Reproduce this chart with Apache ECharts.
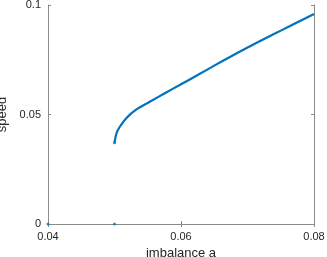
<!DOCTYPE html>
<html><head><meta charset="utf-8">
<script src="https://cdn.jsdelivr.net/npm/echarts@6/dist/echarts.min.js"></script>
<style>html,body{margin:0;padding:0;background:#fff}#c{width:327px;height:257px}</style>
</head><body><div id="c"></div>
<script>
var curveX = [0.05, 0.0503, 0.0508, 0.0518, 0.0533, 0.0553, 0.0575, 0.06, 0.0625, 0.065, 0.0675, 0.07, 0.0725, 0.075, 0.0775, 0.08];
var curveY = [0.0371, 0.0414, 0.0444, 0.0484, 0.0523, 0.0558, 0.0596, 0.0638, 0.0680, 0.0723, 0.0765, 0.0806, 0.0845, 0.0883, 0.0921, 0.0959];
var zeroX = [0.04, 0.05];
var zeroY = [0, 0];
var xTicks = [0.04, 0.06, 0.08];
var yTicks = [0, 0.05, 0.1];

var color = '#0072BD';
var axisCol = '#8a8a8a';
var textCol = '#262626';
var font = 'Liberation Sans, Arial, sans-serif';
function pairs(xs, ys){ return xs.map(function(x,i){return [x, ys[i]];}); }
var chart = echarts.init(document.getElementById('c'), null, {renderer:'canvas'});
var common = {
  axisLine:{show:true, lineStyle:{color:axisCol, width:1}},
  axisTick:{show:true, inside:true, length:3, lineStyle:{color:axisCol}},
  splitLine:{show:false}
};
function fmt(list){ return function(v){ var r=+(+v).toFixed(3); return list.indexOf(r)>=0 ? String(r) : ''; }; }
chart.setOption({
  animation:false,
  grid:{left:48, top:5, right:13, bottom:33, containLabel:false, outerBoundsMode:'none'},
  xAxis:[
    Object.assign({type:'value', min:0.04, max:0.08, interval:0.02, position:'bottom',
      name:'imbalance a', nameLocation:'middle', nameGap:20,
      nameTextStyle:{fontFamily:font, fontSize:13, color:textCol},
      axisLabel:{fontFamily:font, fontSize:11, color:textCol, margin:7, formatter:fmt(xTicks)}
    }, common),
    Object.assign({type:'value', min:0.04, max:0.08, interval:0.02, position:'top', axisLabel:{show:false}}, common)
  ],
  yAxis:[
    Object.assign({type:'value', min:0, max:0.1, interval:0.05, position:'left',
      name:'speed', nameLocation:'middle', nameGap:33,
      nameTextStyle:{fontFamily:font, fontSize:13, color:textCol},
      axisLabel:{fontFamily:font, fontSize:11, color:textCol, margin:7, formatter:fmt(yTicks)}
    }, common),
    Object.assign({type:'value', min:0, max:0.1, interval:0.05, position:'right', axisLabel:{show:false}}, common)
  ],
  series:[
    {type:'line', data:pairs(curveX, curveY), smooth:0.3, showSymbol:false,
      lineStyle:{color:color, width:2.2}, z:3},
    {type:'scatter', data:[[curveX[0], curveY[0]]], symbolSize:3, itemStyle:{color:color}, z:4},
    {type:'scatter', data:pairs(zeroX, zeroY), symbolSize:3, itemStyle:{color:color}, z:4, clip:false}
  ]
});
</script></body></html>
